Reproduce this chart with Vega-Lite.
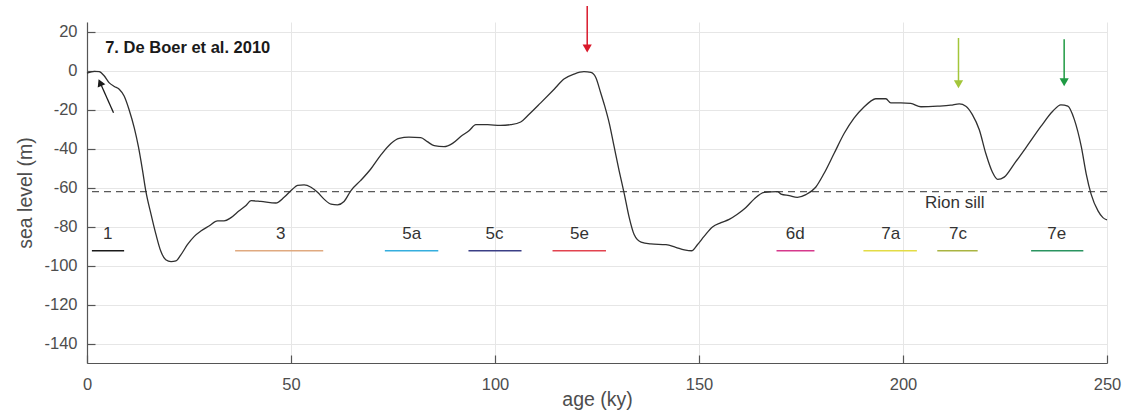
{
  "$schema": "https://vega.github.io/schema/vega-lite/v6.json",
  "autosize": {"type": "none"},
  "padding": {"left": 87, "top": 22, "right": 18, "bottom": 51},
  "width": 1020,
  "height": 341,
  "config": {
    "view": {"stroke": null},
    "font": "Liberation Sans",
    "axis": {
      "gridColor": "#e6e6e6",
      "gridWidth": 1,
      "domainColor": "#555555",
      "tickColor": "#555555",
      "labelColor": "#4d4d4d",
      "titleColor": "#4d4d4d",
      "labelFontSize": 16.5,
      "titleFontSize": 19.5,
      "titleFontWeight": "normal",
      "labelFont": "Liberation Sans",
      "titleFont": "Liberation Sans"
    }
  },
  "datasets": {
    "curve": [
      {"age": 0, "sl": -1.2}, {"age": 1.8, "sl": -0.3}, {"age": 3.0, "sl": -0.5}, {"age": 4.2, "sl": -2.6},
      {"age": 5.4, "sl": -6.1}, {"age": 6.7, "sl": -8.1}, {"age": 7.9, "sl": -9.5}, {"age": 9.1, "sl": -13},
      {"age": 10.3, "sl": -19.9}, {"age": 11.6, "sl": -29.5}, {"age": 12.6, "sl": -39}, {"age": 13.6, "sl": -51},
      {"age": 14.4, "sl": -61.5}, {"age": 15.7, "sl": -73.7}, {"age": 16.9, "sl": -84}, {"age": 18.1, "sl": -92.7},
      {"age": 19.3, "sl": -97}, {"age": 20.6, "sl": -98}, {"age": 21.8, "sl": -97.6}, {"age": 23.0, "sl": -94.5},
      {"age": 24.6, "sl": -89.3}, {"age": 26.3, "sl": -85}, {"age": 27.9, "sl": -82.3}, {"age": 29.9, "sl": -79.7},
      {"age": 32.0, "sl": -77.1}, {"age": 33.6, "sl": -77.1}, {"age": 35.3, "sl": -75.4}, {"age": 37.3, "sl": -71.9},
      {"age": 38.9, "sl": -69.3}, {"age": 40.2, "sl": -66.7}, {"age": 42.6, "sl": -67.1}, {"age": 46.3, "sl": -67.9},
      {"age": 48.3, "sl": -65}, {"age": 50.4, "sl": -60.7}, {"age": 51.6, "sl": -58.9}, {"age": 53.2, "sl": -58.6},
      {"age": 54.9, "sl": -59.8}, {"age": 56.5, "sl": -62.4}, {"age": 58.1, "sl": -65.9}, {"age": 59.8, "sl": -68.5},
      {"age": 61.4, "sl": -68.8}, {"age": 63.0, "sl": -67.1}, {"age": 64.7, "sl": -61.5}, {"age": 67.1, "sl": -56.3},
      {"age": 69.6, "sl": -50.3}, {"age": 72.0, "sl": -43.3}, {"age": 74.5, "sl": -37.3}, {"age": 76.5, "sl": -34.7},
      {"age": 78.9, "sl": -34.1}, {"age": 81.8, "sl": -34.3}, {"age": 83.4, "sl": -36.4}, {"age": 85.1, "sl": -38.5},
      {"age": 87.5, "sl": -39}, {"age": 89.6, "sl": -37.3}, {"age": 91.6, "sl": -33.8}, {"age": 93.7, "sl": -30.7},
      {"age": 95.3, "sl": -27.7}, {"age": 98.2, "sl": -27.7}, {"age": 101.3, "sl": -28.1}, {"age": 103.8, "sl": -27.7},
      {"age": 106.3, "sl": -26.3}, {"age": 108.3, "sl": -22.5}, {"age": 111.2, "sl": -16.5}, {"age": 114.5, "sl": -9.5},
      {"age": 116.9, "sl": -4.3}, {"age": 119.4, "sl": -1.7}, {"age": 121.8, "sl": -0.5}, {"age": 123.5, "sl": -0.9},
      {"age": 124.7, "sl": -3.5}, {"age": 125.9, "sl": -11.3}, {"age": 126.9, "sl": -18.2}, {"age": 128.0, "sl": -26.9},
      {"age": 129.2, "sl": -39}, {"age": 130.4, "sl": -51.1}, {"age": 131.7, "sl": -63.3}, {"age": 132.9, "sl": -75.4},
      {"age": 134.1, "sl": -84.1}, {"age": 135.8, "sl": -88}, {"age": 138.2, "sl": -88.9}, {"age": 141.9, "sl": -89.3},
      {"age": 144.3, "sl": -90.6}, {"age": 146.4, "sl": -91.9}, {"age": 148.2, "sl": -92.4}, {"age": 149.6, "sl": -89.3},
      {"age": 151.3, "sl": -84.9}, {"age": 153.3, "sl": -80.2}, {"age": 155.4, "sl": -78}, {"age": 157.4, "sl": -76.3},
      {"age": 159.4, "sl": -73.7}, {"age": 161.5, "sl": -70.2}, {"age": 163.5, "sl": -65.9}, {"age": 166.0, "sl": -62.4},
      {"age": 169.2, "sl": -62}, {"age": 170.1, "sl": -63.3}, {"age": 172.1, "sl": -64.1}, {"age": 174.1, "sl": -65},
      {"age": 176.2, "sl": -63.6}, {"age": 178.6, "sl": -59.8}, {"age": 180.6, "sl": -52.9}, {"age": 183.1, "sl": -42.5},
      {"age": 185.6, "sl": -32.1}, {"age": 188.0, "sl": -24.3}, {"age": 190.5, "sl": -18.5}, {"age": 192.1, "sl": -15.6},
      {"age": 193.3, "sl": -14.4}, {"age": 195.8, "sl": -14.4}, {"age": 197.0, "sl": -16.5}, {"age": 199.5, "sl": -16.5},
      {"age": 201.9, "sl": -16.8}, {"age": 204.4, "sl": -18.5}, {"age": 208.5, "sl": -18.2}, {"age": 211.7, "sl": -17.7},
      {"age": 213.8, "sl": -17}, {"age": 215.4, "sl": -18.2}, {"age": 217.0, "sl": -22.5}, {"age": 218.7, "sl": -30.3},
      {"age": 220.3, "sl": -42.5}, {"age": 221.9, "sl": -52}, {"age": 223.2, "sl": -55.8}, {"age": 224.8, "sl": -54.6},
      {"age": 227.3, "sl": -47.7}, {"age": 230.6, "sl": -38.1}, {"age": 233.8, "sl": -28.6}, {"age": 236.7, "sl": -20.8},
      {"age": 238.7, "sl": -17.5}, {"age": 240.4, "sl": -18.2}, {"age": 242.0, "sl": -25.1}, {"age": 243.7, "sl": -39},
      {"age": 244.9, "sl": -52.9}, {"age": 246.1, "sl": -63.3}, {"age": 247.8, "sl": -71.9}, {"age": 249.0, "sl": -75.4},
      {"age": 250.0, "sl": -76.6}
    ],
    "stages": [
      {"stage": "1", "start": 1.2, "end": 9.1, "mid": 5.1, "level": -92.4, "labely": -84},
      {"stage": "3", "start": 36.3, "end": 57.9, "mid": 47.5, "level": -92.4, "labely": -84},
      {"stage": "5a", "start": 73.0, "end": 86.1, "mid": 79.6, "level": -92.4, "labely": -84},
      {"stage": "5c", "start": 93.5, "end": 106.5, "mid": 99.9, "level": -92.4, "labely": -84},
      {"stage": "5e", "start": 114.1, "end": 127.2, "mid": 120.7, "level": -92.4, "labely": -84},
      {"stage": "6d", "start": 169.0, "end": 178.3, "mid": 173.6, "level": -92.4, "labely": -84},
      {"stage": "7a", "start": 190.3, "end": 203.4, "mid": 197.0, "level": -92.4, "labely": -84},
      {"stage": "7c", "start": 208.4, "end": 218.3, "mid": 213.5, "level": -92.4, "labely": -84},
      {"stage": "7e", "start": 231.4, "end": 244.2, "mid": 237.7, "level": -92.4, "labely": -84}
    ],
    "downArrows": [
      {"target": "5e", "x": 122.6, "ytail": 33.2, "yhead": 11.4},
      {"target": "7c", "x": 213.6, "ytail": 16.8, "yhead": -6.9},
      {"target": "7e", "x": 239.5, "ytail": 16.1, "yhead": -5.9}
    ],
    "slantArrow": [
      {"target": "1", "xtail": 6.5, "ytail": -21.6, "xhead": 3.2, "yhead": -6.1}
    ],
    "notes": [
      {"text": "Rion sill", "x": 212.7, "y": -67.9}
    ],
    "title": [
      {"text": "7. De Boer et al. 2010", "x": 4.46, "y": 11.6}
    ],
    "sill": [{"level": -62}]
  },
  "layer": [
    {
      "data": {"name": "sill"},
      "mark": {"type": "rule", "color": "#5a5a5a", "strokeWidth": 1.3, "strokeDash": [7, 5]},
      "encoding": {
        "y": {"field": "level", "type": "quantitative",
          "scale": {"domain": [-150, 25], "nice": false, "zero": false},
          "axis": {
            "title": "sea level (m)",
            "values": [-140, -120, -100, -80, -60, -40, -20, 0, 20],
            "labelExpr": "'' + datum.value",
            "labelFlush": false,
            "grid": true,
            "tickSize": -8,
            "labelPadding": 18,
            "titlePadding": 8,
            "domainWidth": 1.2,
            "tickWidth": 1.2
          }
        }
      }
    },
    {
      "data": {"name": "curve"},
      "mark": {"type": "line", "color": "#303030", "strokeWidth": 1.3, "interpolate": "monotone"},
      "encoding": {
        "x": {"field": "age", "type": "quantitative",
          "scale": {"domain": [0, 250], "nice": false, "zero": false},
          "axis": {
            "title": "age (ky)",
            "values": [0, 50, 100, 150, 200, 250],
            "labelExpr": "'' + datum.value",
            "labelFlush": false,
            "grid": true,
            "tickSize": -8,
            "labelPadding": 21,
            "titleY": 27,
            "titleBaseline": "top",
            "domainWidth": 1.2,
            "tickWidth": 1.2
          }
        },
        "y": {"field": "sl", "type": "quantitative"}
      }
    },
    {
      "data": {"name": "stages"},
      "mark": {"type": "rule", "strokeWidth": 1.4},
      "encoding": {
        "x": {"field": "start", "type": "quantitative"},
        "x2": {"field": "end"},
        "y": {"field": "level", "type": "quantitative"},
        "color": {"field": "stage", "type": "nominal", "legend": null,
          "scale": {
            "domain": ["1", "3", "5a", "5c", "5e", "6d", "7a", "7c", "7e"],
            "range": ["#1a1a1a", "#e0aa80", "#35aede", "#3b3f86", "#e2434f", "#d6398c", "#e3dc45", "#a9b441", "#2a9460"]
          }
        }
      }
    },
    {
      "data": {"name": "stages"},
      "mark": {"type": "text", "fontSize": 17, "color": "#333333", "align": "center", "baseline": "middle"},
      "encoding": {
        "x": {"field": "mid", "type": "quantitative"},
        "y": {"field": "labely", "type": "quantitative"},
        "text": {"field": "stage"}
      }
    },
    {
      "data": {"name": "notes"},
      "mark": {"type": "text", "fontSize": 17, "color": "#333333", "align": "center", "baseline": "middle"},
      "encoding": {
        "x": {"field": "x", "type": "quantitative"},
        "y": {"field": "y", "type": "quantitative"},
        "text": {"field": "text"}
      }
    },
    {
      "data": {"name": "title"},
      "mark": {"type": "text", "fontSize": 16.5, "fontWeight": "bold", "color": "#1a1a1a", "align": "left", "baseline": "middle"},
      "encoding": {
        "x": {"field": "x", "type": "quantitative"},
        "y": {"field": "y", "type": "quantitative"},
        "text": {"field": "text"}
      }
    },
    {
      "data": {"name": "downArrows"},
      "layer": [
        {
          "mark": {"type": "rule", "strokeWidth": 1.5},
          "encoding": {
            "x": {"field": "x", "type": "quantitative"},
            "y": {"field": "ytail", "type": "quantitative"},
            "y2": {"field": "yhead"},
            "color": {"field": "target", "type": "nominal", "legend": null,
              "scale": {"domain": ["1", "5e", "7c", "7e"], "range": ["#1a1a1a", "#d9192b", "#a3c63a", "#1f9a43"]}}
          }
        },
        {
          "mark": {"type": "point", "shape": "triangle-down", "filled": true, "opacity": 1, "size": 85},
          "encoding": {
            "x": {"field": "x", "type": "quantitative"},
            "y": {"field": "yhead", "type": "quantitative"},
            "color": {"field": "target", "type": "nominal", "legend": null,
              "scale": {"domain": ["1", "5e", "7c", "7e"], "range": ["#1a1a1a", "#d9192b", "#a3c63a", "#1f9a43"]}}
          }
        }
      ]
    },
    {
      "data": {"name": "slantArrow"},
      "layer": [
        {
          "mark": {"type": "rule", "strokeWidth": 1.3, "color": "#1a1a1a"},
          "encoding": {
            "x": {"field": "xtail", "type": "quantitative"},
            "x2": {"field": "xhead"},
            "y": {"field": "ytail", "type": "quantitative"},
            "y2": {"field": "yhead"}
          }
        },
        {
          "mark": {"type": "point", "shape": "triangle-up", "filled": true, "opacity": 1, "size": 70, "angle": 336, "color": "#1a1a1a"},
          "encoding": {
            "x": {"field": "xhead", "type": "quantitative"},
            "y": {"field": "yhead", "type": "quantitative"}
          }
        }
      ]
    }
  ],
  "resolve": {"scale": {"color": "independent"}}
}
